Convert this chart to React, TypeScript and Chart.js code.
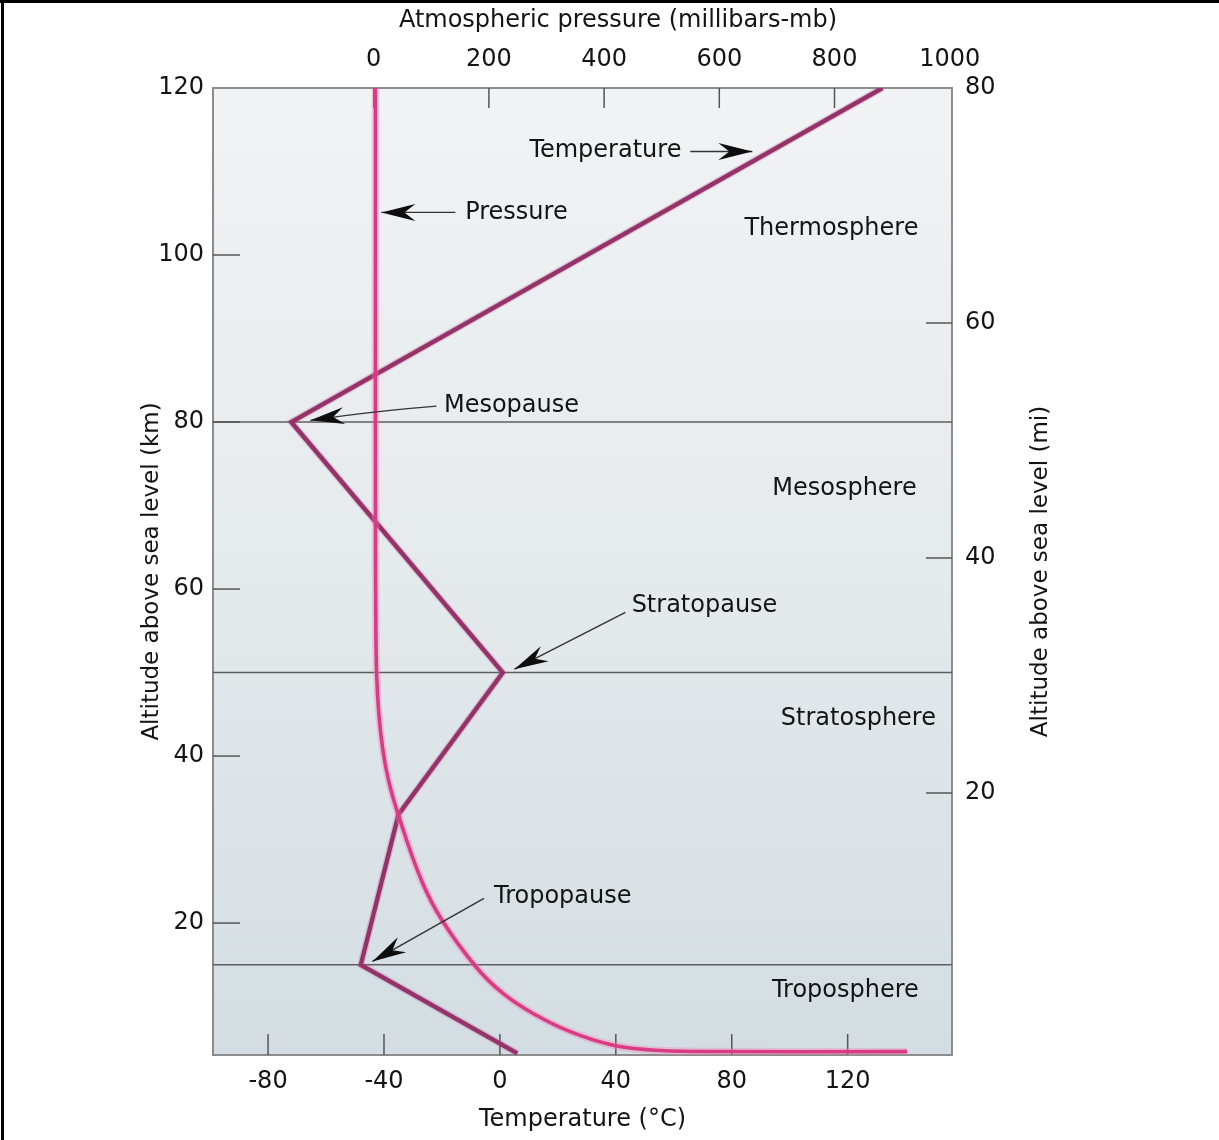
import { useEffect, useRef } from "react";
import { Chart, registerables } from "chart.js";

Chart.register(...registerables);

// ---- data ----
const TEMPERATURE_C = [132, -72, 1, -35, -48, 6];
const TEMPERATURE_ALT_KM = [120, 80, 50, 33, 15, 4.4];

const PRESSURE_MB = [3, 3, 3.5, 5, 9, 16, 26, 42, 83, 119, 177, 224, 276, 341, 414, 481, 560, 926];
const PRESSURE_ALT_KM = [120, 70, 58, 50, 45, 40.7, 37, 33.1, 25.1, 20.3, 14.8, 11.6, 9.2, 7.0, 5.4, 4.8, 4.62, 4.6];

const ALT_KM_TICKS = [20, 40, 60, 80, 100, 120];
const ALT_MI_TICKS = [20, 40, 60, 80];
const TEMP_TICKS = [-80, -40, 0, 40, 80, 120];
const PRESSURE_TICKS = [0, 200, 400, 600, 800, 1000];

const ALT_KM_RANGE = [4.2, 120];
const ALT_MI_RANGE = [-2.3, 80];
const TEMP_RANGE = [-99, 156];
const PRESSURE_RANGE = [-279, 1004];

const LAYER_BOUNDARIES_KM = [80, 50, 15];

const LAYER_NAMES = ["Thermosphere", "Mesosphere", "Stratosphere", "Troposphere"];
const LAYER_LABEL_TEMP = [114.4, 118.9, 123.7, 119.2];
const LAYER_LABEL_ALT = [103.2, 72.05, 44.5, 11.95];

const CALLOUT_TEXT = ["Temperature", "Pressure", "Mesopause", "Stratopause", "Tropopause"];
const CALLOUT_TEXT_TEMP = [36.4, 5.7, 4.0, 70.6, 21.7];
const CALLOUT_TEXT_ALT = [112.5, 105.0, 82.0, 58.0, 23.1];
const CALLOUT_TAIL_TEMP = [65.7, -15.4, -21.9, 43.3, -5.5];
const CALLOUT_TAIL_ALT = [112.4, 105.1, 81.9, 57.2, 22.96];
const CALLOUT_BEND_TEMP = [null, null, -41.2, null, null];
const CALLOUT_BEND_ALT = [null, null, 81.4, null, null];
const CALLOUT_TIP_TEMP = [87.1, -40.9, -65.4, 5.0, -44.0];
const CALLOUT_TIP_ALT = [112.4, 105.1, 80.2, 50.4, 15.4];

const W = 1219;
const H = 1140;
const FONT = "'DejaVu Sans', 'Liberation Sans', sans-serif";
const TEXT = "#141414";

export default function App() {
  const ref = useRef<HTMLCanvasElement>(null);

  useEffect(() => {
    const canvas = ref.current;
    if (!canvas) return;

    const pts = (xs: number[], ys: number[]) => xs.map((v, i) => ({ x: v, y: ys[i] }));
    const fixTicks = (values: number[]) => (scale: any) => {
      scale.ticks = values.map((v) => ({ value: v }));
    };
    const tickFont = { family: FONT, size: 24 };
    const border = { display: true, color: "#8c8c8c", width: 2 };
    const grid = { display: false, drawTicks: false };

    const drawArrowHead = (ctx: CanvasRenderingContext2D, fx: number, fy: number, tx: number, ty: number) => {
      const dx = tx - fx;
      const dy = ty - fy;
      const len = Math.hypot(dx, dy) || 1;
      const ux = dx / len;
      const uy = dy / len;
      const nx = -uy;
      const ny = ux;
      const L = 34;
      const Wd = 8.5;
      const notch = 23;
      ctx.beginPath();
      ctx.moveTo(tx, ty);
      ctx.lineTo(tx - ux * L + nx * Wd, ty - uy * L + ny * Wd);
      ctx.lineTo(tx - ux * notch, ty - uy * notch);
      ctx.lineTo(tx - ux * L - nx * Wd, ty - uy * L - ny * Wd);
      ctx.closePath();
      ctx.fill();
    };

    const decor = {
      id: "decor",
      beforeDraw(chart: any) {
        const { ctx, chartArea: a } = chart;
        ctx.save();
        const g = ctx.createLinearGradient(0, a.top, 0, a.bottom);
        g.addColorStop(0, "#f1f3f5");
        g.addColorStop(0.5, "#e5eaec");
        g.addColorStop(1, "#d3dde2");
        ctx.fillStyle = g;
        ctx.fillRect(a.left, a.top, a.right - a.left, a.bottom - a.top);
        ctx.restore();
      },
      beforeDatasetsDraw(chart: any) {
        const { ctx, chartArea: a, scales } = chart;
        ctx.save();
        ctx.strokeStyle = "#5e5e5e";
        ctx.lineWidth = 1.5;
        LAYER_BOUNDARIES_KM.forEach((b) => {
          const py = scales.y.getPixelForValue(b);
          ctx.beginPath();
          ctx.moveTo(a.left, py);
          ctx.lineTo(a.right, py);
          ctx.stroke();
        });
        ctx.strokeStyle = "#555";
        ctx.lineWidth = 1.5;
        const marks: [string, string, number][] = [
          ["y", "left", 27],
          ["y2", "right", 26],
          ["x2", "top", 20],
          ["x", "bottom", 21],
        ];
        marks.forEach(([id, side, len]) => {
          const s = scales[id];
          s.ticks.forEach((t: any) => {
            const p = s.getPixelForValue(t.value);
            ctx.beginPath();
            if (side === "left" || side === "right") {
              if (p < a.top + 3 || p > a.bottom - 3) return;
              const x0 = side === "left" ? a.left : a.right;
              const x1 = side === "left" ? a.left + len : a.right - len;
              ctx.moveTo(x0, p);
              ctx.lineTo(x1, p);
            } else {
              if (p < a.left + 4 || p > a.right - 4) return;
              const y0 = side === "top" ? a.top : a.bottom;
              const y1 = side === "top" ? a.top + len : a.bottom - len;
              ctx.moveTo(p, y0);
              ctx.lineTo(p, y1);
            }
            ctx.stroke();
          });
        });
        ctx.restore();
      },
      afterDatasetsDraw(chart: any) {
        const { ctx, scales } = chart;
        const X = (v: number) => scales.x.getPixelForValue(v);
        const Y = (v: number) => scales.y.getPixelForValue(v);
        ctx.save();
        ctx.font = `24px ${FONT}`;
        ctx.textAlign = "center";
        ctx.textBaseline = "middle";
        ctx.fillStyle = TEXT;
        LAYER_NAMES.forEach((n, i) => {
          ctx.fillText(n, X(LAYER_LABEL_TEMP[i]), Y(LAYER_LABEL_ALT[i]));
        });
        CALLOUT_TEXT.forEach((n, i) => {
          ctx.fillStyle = TEXT;
          ctx.fillText(n, X(CALLOUT_TEXT_TEMP[i]), Y(CALLOUT_TEXT_ALT[i]));
          const fx = X(CALLOUT_TAIL_TEMP[i]);
          const fy = Y(CALLOUT_TAIL_ALT[i]);
          const tx = X(CALLOUT_TIP_TEMP[i]);
          const ty = Y(CALLOUT_TIP_ALT[i]);
          const bt = CALLOUT_BEND_TEMP[i];
          const ba = CALLOUT_BEND_ALT[i];
          ctx.strokeStyle = "#333";
          ctx.lineWidth = 1.4;
          ctx.beginPath();
          ctx.moveTo(fx, fy);
          let hx = fx;
          let hy = fy;
          if (bt !== null && ba !== null) {
            const cx = X(bt);
            const cy = Y(ba);
            ctx.quadraticCurveTo(cx, cy, tx, ty);
            hx = cx;
            hy = cy;
          } else {
            ctx.lineTo(tx, ty);
          }
          ctx.stroke();
          ctx.fillStyle = "#0d0d0d";
          drawArrowHead(ctx, hx, hy, tx, ty);
        });
        ctx.restore();
      },
      afterDraw(chart: any) {
        const { ctx, chartArea: a } = chart;
        ctx.save();
        ctx.fillStyle = TEXT;
        ctx.font = `24px ${FONT}`;
        ctx.textAlign = "center";
        ctx.textBaseline = "middle";
        ctx.fillText("Atmospheric pressure (millibars-mb)", 618, 21);
        ctx.font = `23px ${FONT}`;
        ctx.translate(1041, (a.top + a.bottom) / 2);
        ctx.rotate(-Math.PI / 2);
        ctx.fillText("Altitude above sea level (mi)", 0, 0);
        ctx.restore();
        ctx.save();
        ctx.fillStyle = "#000";
        ctx.fillRect(0, 0, W, 3);
        ctx.fillRect(1, 0, 3, H);
        ctx.restore();
      },
    };

    const chart = new Chart(canvas, {
      type: "scatter",
      data: {
        datasets: [
          {
            data: pts(PRESSURE_MB, PRESSURE_ALT_KM),
            xAxisID: "x2",
            yAxisID: "y",
            showLine: true,
            borderColor: "rgba(240,130,180,0.35)",
            borderWidth: 7.5,
            pointRadius: 0,
            tension: 0.4,
          },
          {
            data: pts(PRESSURE_MB, PRESSURE_ALT_KM),
            xAxisID: "x2",
            yAxisID: "y",
            showLine: true,
            borderColor: "#cf146c",
            borderWidth: 3.6,
            pointRadius: 0,
            tension: 0.4,
          },
          {
            data: pts(TEMPERATURE_C, TEMPERATURE_ALT_KM),
            xAxisID: "x",
            yAxisID: "y",
            showLine: true,
            borderColor: "rgba(190,100,150,0.3)",
            borderWidth: 7,
            pointRadius: 0,
            tension: 0,
            borderJoinStyle: "miter",
          },
          {
            data: pts(TEMPERATURE_C, TEMPERATURE_ALT_KM),
            xAxisID: "x",
            yAxisID: "y",
            showLine: true,
            borderColor: "#861d58",
            borderWidth: 4.4,
            pointRadius: 0,
            tension: 0,
            borderJoinStyle: "miter",
          },
        ],
      },
      options: {
        responsive: false,
        animation: false,
        devicePixelRatio: 1,
        events: [],
        layout: { padding: 0, autoPadding: false },
        plugins: {
          legend: { display: false },
          tooltip: { enabled: false },
          title: { display: false },
        },
        scales: {
          x: {
            type: "linear",
            position: "bottom",
            min: TEMP_RANGE[0],
            max: TEMP_RANGE[1],
            afterBuildTicks: fixTicks(TEMP_TICKS),
            afterFit: (s: any) => {
              s.height = 85;
            },
            grid,
            border,
            ticks: {
              font: tickFont,
              color: TEXT,
              padding: 12,
              autoSkip: false,
              maxRotation: 0,
              callback: (v: any) => String(v),
            },
            title: {
              display: true,
              text: "Temperature (°C)",
              font: { family: FONT, size: 24 },
              color: TEXT,
              padding: { top: 0, bottom: 5.6 },
            },
          },
          x2: {
            type: "linear",
            position: "top",
            min: PRESSURE_RANGE[0],
            max: PRESSURE_RANGE[1],
            afterBuildTicks: fixTicks(PRESSURE_TICKS),
            afterFit: (s: any) => {
              s.height = 88;
            },
            grid,
            border,
            ticks: {
              font: tickFont,
              color: TEXT,
              padding: 14,
              autoSkip: false,
              maxRotation: 0,
              callback: (v: any) => String(v),
            },
          },
          y: {
            type: "linear",
            position: "left",
            min: ALT_KM_RANGE[0],
            max: ALT_KM_RANGE[1],
            afterBuildTicks: fixTicks(ALT_KM_TICKS),
            afterFit: (s: any) => {
              s.width = 213;
            },
            grid,
            border,
            ticks: {
              font: tickFont,
              color: TEXT,
              padding: 9,
              autoSkip: false,
              callback: (v: any) => String(v),
            },
            title: {
              display: true,
              text: "Altitude above sea level (km)",
              font: { family: FONT, size: 23 },
              color: TEXT,
              padding: { top: 138, bottom: 0 },
            },
          },
          y2: {
            type: "linear",
            position: "right",
            min: ALT_MI_RANGE[0],
            max: ALT_MI_RANGE[1],
            afterBuildTicks: fixTicks(ALT_MI_TICKS),
            afterFit: (s: any) => {
              s.width = 267;
            },
            grid,
            border,
            ticks: {
              font: tickFont,
              color: TEXT,
              padding: 13,
              autoSkip: false,
              callback: (v: any) => String(v),
            },
          },
        },
      },
      plugins: [decor],
    } as any);

    return () => chart.destroy();
  }, []);

  return (
    <div style={{ position: "absolute", left: 0, top: 0, width: W, height: H, overflow: "hidden", background: "#fff" }}>
      <canvas ref={ref} width={W} height={H} style={{ display: "block", width: W, height: H }} />
    </div>
  );
}
